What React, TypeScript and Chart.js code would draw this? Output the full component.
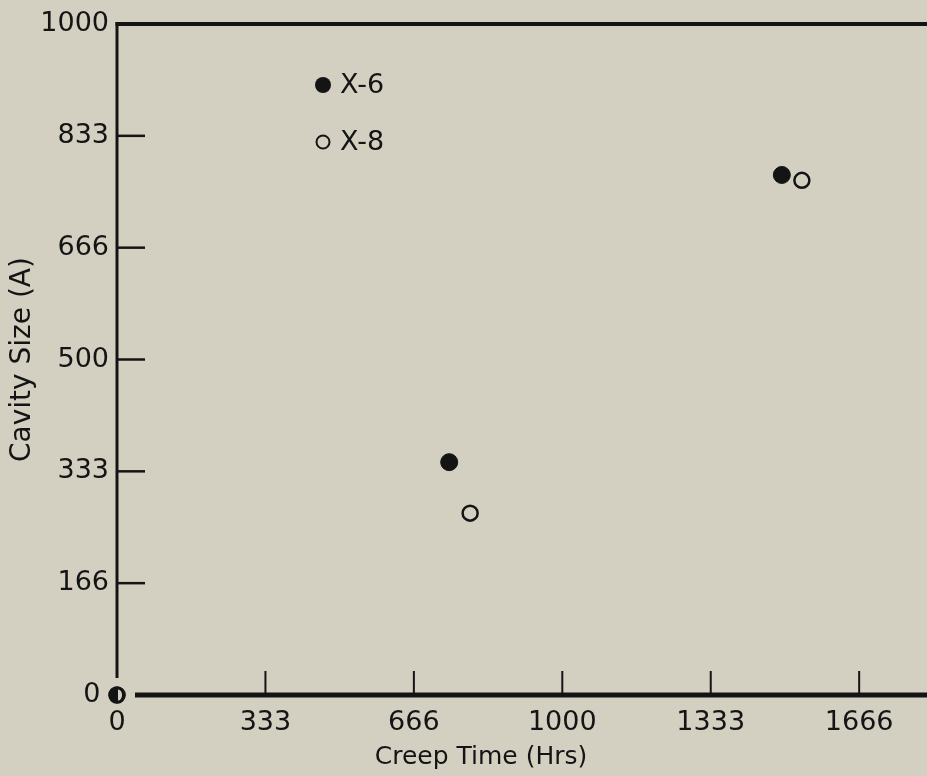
import React, { useEffect, useRef } from 'react';
import { Chart, registerables } from 'chart.js';

Chart.register(...registerables);

// ---- data ----
const xTickValues = [0, 333.33, 666.67, 1000, 1333.33, 1666.67];
const xTickLabels = ['0', '333', '666', '1000', '1333', '1666'];
const yTickValues = [0, 166.67, 333.33, 500, 666.67, 833.33, 1000];
const yTickLabels = ['0 ', '166', '333', '500', '666', '833', '1000'];

const x6Time = [0, 746, 1493];
const x6Size = [0, 347, 775];
const x8Time = [0, 793, 1538];
const x8Size = [0, 271, 767];

const seriesNames = ['X-6', 'X-8'];
const xTitle = 'Creep Time (Hrs)';
const yTitle = 'Cavity Size (A)';

const X_MAX = 1819;
const Y_MAX = 1000;

const BG = '#d3d0c2';
const INK = '#141414';
const FONT = '"DejaVu Sans", sans-serif';

function makeHalfMarker(): HTMLCanvasElement {
  const c = document.createElement('canvas');
  c.width = 20;
  c.height = 20;
  const g = c.getContext('2d')!;
  g.fillStyle = INK;
  g.beginPath();
  g.arc(10, 10, 8.5, 0, Math.PI * 2);
  g.fill();
  g.fillStyle = BG;
  g.beginPath();
  g.ellipse(11, 10, 4, 5.5, 0, -Math.PI / 2, Math.PI / 2);
  g.fill();
  return c;
}

export default function App() {
  const ref = useRef<HTMLCanvasElement | null>(null);

  useEffect(() => {
    if (!ref.current) return;
    const half = makeHalfMarker();

    const decor = {
      id: 'decor',
      beforeDatasetsDraw(chart: any) {
        const { ctx, chartArea: a, scales } = chart;
        const xs = scales.x;
        const ys = scales.y;
        ctx.save();
        ctx.strokeStyle = INK;
        ctx.lineCap = 'butt';
        // top border
        ctx.lineWidth = 4;
        ctx.beginPath();
        ctx.moveTo(a.left - 1.5, a.top);
        ctx.lineTo(a.right, a.top);
        ctx.stroke();
        // y axis line (gap near origin)
        ctx.lineWidth = 3;
        ctx.beginPath();
        ctx.moveTo(a.left, a.top - 2);
        ctx.lineTo(a.left, a.bottom - 17);
        ctx.stroke();
        // x axis line (gap near origin)
        ctx.lineWidth = 5;
        ctx.beginPath();
        ctx.moveTo(a.left + 18, a.bottom);
        ctx.lineTo(a.right, a.bottom);
        ctx.stroke();
        // inward y ticks
        ctx.lineWidth = 2.5;
        yTickValues.forEach((v, i) => {
          if (i === 0 || i === yTickValues.length - 1) return;
          const y = ys.getPixelForValue(v);
          ctx.beginPath();
          ctx.moveTo(a.left, y);
          ctx.lineTo(a.left + 28, y);
          ctx.stroke();
        });
        // upward x ticks
        ctx.lineWidth = 2;
        xTickValues.forEach((v, i) => {
          if (i === 0) return;
          const x = xs.getPixelForValue(v);
          ctx.beginPath();
          ctx.moveTo(x, a.bottom);
          ctx.lineTo(x, a.bottom - 24);
          ctx.stroke();
        });
        ctx.restore();
      },
      afterDraw(chart: any) {
        const { ctx, chartArea: a } = chart;
        ctx.save();
        // legend
        const lx = a.left + 206;
        const ly1 = a.top + 61;
        const ly2 = a.top + 118;
        ctx.fillStyle = INK;
        ctx.beginPath();
        ctx.arc(lx, ly1, 8, 0, Math.PI * 2);
        ctx.fill();
        ctx.strokeStyle = INK;
        ctx.lineWidth = 2;
        ctx.beginPath();
        ctx.arc(lx, ly2, 6.5, 0, Math.PI * 2);
        ctx.stroke();
        ctx.font = `27px ${FONT}`;
        ctx.textAlign = 'left';
        ctx.textBaseline = 'middle';
        ctx.fillText(seriesNames[0], lx + 17, ly1 + 1);
        ctx.fillText(seriesNames[1], lx + 17, ly2 + 1);
        // x title
        ctx.font = `25px ${FONT}`;
        ctx.textAlign = 'center';
        ctx.fillText(xTitle, 481, 757);
        ctx.restore();
      },
    };

    const chart = new Chart(ref.current, {
      type: 'scatter',
      data: {
        datasets: [
          {
            label: seriesNames[0],
            data: x6Time.map((t, i) => ({ x: t, y: x6Size[i] })),
            pointStyle: (c: any) => (c.dataIndex === 0 ? half : 'circle'),
            pointRadius: 8.5,
            backgroundColor: INK,
            borderColor: INK,
            borderWidth: 1,
            clip: false,
          },
          {
            label: seriesNames[1],
            data: x8Time.map((t, i) => ({ x: t, y: x8Size[i] })),
            pointStyle: 'circle',
            pointRadius: 7.5,
            backgroundColor: 'rgba(0,0,0,0)',
            borderColor: INK,
            borderWidth: 2.5,
            clip: false,
          },
        ],
      },
      options: {
        animation: false,
        responsive: false,
        events: [],
        layout: { autoPadding: false, padding: { top: 24, right: 0, left: 0, bottom: 0 } },
        plugins: {
          legend: { display: false },
          tooltip: { enabled: false },
        },
        scales: {
          x: {
            type: 'linear',
            min: 0,
            max: X_MAX,
            afterBuildTicks: (s: any) => {
              s.ticks = xTickValues.map((v) => ({ value: v }));
            },
            afterFit: (s: any) => {
              s.height = 81;
              s.paddingLeft = 0;
              s.paddingRight = 0;
            },
            grid: { display: false, drawTicks: false },
            border: { display: false },
            ticks: {
              autoSkip: false,
              maxRotation: 0,
              padding: 12,
              color: INK,
              font: { family: FONT, size: 27 },
              callback: (_v: any, i: number) => xTickLabels[i],
            },
            title: { display: false },
          },
          y: {
            type: 'linear',
            min: 0,
            max: Y_MAX,
            afterBuildTicks: (s: any) => {
              s.ticks = yTickValues.map((v) => ({ value: v }));
            },
            afterFit: (s: any) => {
              s.width = 117;
              s.paddingTop = 0;
              s.paddingBottom = 0;
            },
            grid: { display: false, drawTicks: false },
            border: { display: false },
            ticks: {
              autoSkip: false,
              padding: 8,
              color: INK,
              font: { family: FONT, size: 27 },
              callback: (_v: any, i: number) => yTickLabels[i],
            },
            title: {
              display: true,
              text: yTitle,
              color: INK,
              font: { family: FONT, size: 28 },
              padding: { top: 6, bottom: 0 },
            },
          },
        },
      },
      plugins: [decor],
    } as any);

    return () => chart.destroy();
  }, []);

  return (
    <div
      style={{
        position: 'fixed',
        left: 0,
        top: 0,
        width: 927,
        height: 776,
        background: BG,
        overflow: 'hidden',
      }}
    >
      <canvas ref={ref} width={927} height={776} style={{ display: 'block' }} />
    </div>
  );
}
